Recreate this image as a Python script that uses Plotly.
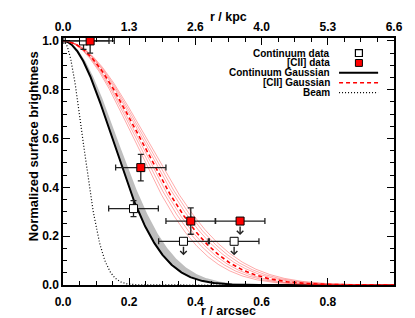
import numpy as np
import plotly.graph_objects as go

# ---------------- data ----------------
# Continuum data (open squares)
cont_r = [0.062, 0.213, 0.364, 0.517]
cont_y = [1.000, 0.313, 0.179, 0.179]
cont_xerr_plus = [0.077, 0.075, 0.075, 0.075]
cont_xerr_minus = [0.062, 0.075, 0.075, 0.075]
cont_yerr = [0.035, 0.033, 0.0, 0.0]
cont_is_limit = [False, False, True, True]

# [CII] data (filled red squares)
cii_r = [0.082, 0.235, 0.386, 0.535]
cii_y = [1.000, 0.481, 0.262, 0.262]
cii_xerr_plus = [0.073, 0.076, 0.075, 0.075]
cii_xerr_minus = [0.075, 0.076, 0.075, 0.075]
cii_yerr = [0.050, 0.054, 0.054, 0.0]
cii_is_limit = [False, False, False, True]

limit_arrow_len = 0.057

# Gaussian model widths (arcsec)
cont_sigma = 0.147
cont_band_sigmas = [0.1455, 0.162]
cii_sigma = 0.230
cii_thin_sigmas = [0.211, 0.218, 0.224, 0.237, 0.243, 0.249]
beam_sigma = 0.059

# Axis ticks
x_tickvals = [0.0, 0.2, 0.4, 0.6, 0.8]
x_ticktext = ["0.0", "0.2", "0.4", "0.6", "0.8"]
top_tickvals = [0.0, 0.2, 0.4, 0.6, 0.8, 1.0]
top_ticktext = ["0.0", "1.3", "2.6", "4.0", "5.3", "6.6"]
y_tickvals = [0.0, 0.2, 0.4, 0.6, 0.8, 1.0]
y_ticktext = ["0.0", "0.2", "0.4", "0.6", "0.8", "1.0"]

legend_labels = ["Continuum data", "[CII] data", "Continuum Gaussian",
                 "[CII] Gaussian", "Beam"]

# ---------------- figure ----------------
FONT = "Liberation Sans, Arial, sans-serif"
r = np.linspace(0, 1.0, 500)


def gauss(x, s):
    return np.exp(-x ** 2 / (2 * s ** 2))


fig = go.Figure()

# grey uncertainty band of continuum Gaussian
fig.add_trace(go.Scatter(x=r, y=gauss(r, cont_band_sigmas[1]), mode="lines",
                         line=dict(width=0, color="#bebebe"), hoverinfo="skip",
                         showlegend=False))
fig.add_trace(go.Scatter(x=r, y=gauss(r, cont_band_sigmas[0]), mode="lines",
                         line=dict(width=0, color="#bebebe"), fill="tonexty",
                         fillcolor="#bebebe", hoverinfo="skip", showlegend=False))
# continuum Gaussian
fig.add_trace(go.Scatter(x=r, y=gauss(r, cont_sigma), mode="lines",
                         line=dict(width=2, color="black"), hoverinfo="skip",
                         showlegend=False))
# beam
fig.add_trace(go.Scatter(x=r, y=gauss(r, beam_sigma), mode="lines",
                         line=dict(width=1.2, color="black", dash="1px,2px"),
                         hoverinfo="skip", showlegend=False))
# [CII] uncertainty curves
for s in cii_thin_sigmas:
    fig.add_trace(go.Scatter(x=r, y=gauss(r, s), mode="lines",
                             line=dict(width=0.8, color="rgba(255,60,60,0.55)"),
                             hoverinfo="skip", showlegend=False))
# [CII] Gaussian
fig.add_trace(go.Scatter(x=r, y=gauss(r, cii_sigma), mode="lines",
                         line=dict(width=1.6, color="#ff0000", dash="4px,3px"),
                         hoverinfo="skip", showlegend=False))


def add_points(rr, yy, xp, xm, ye, lim, fill):
    det = [i for i in range(len(rr)) if not lim[i]]
    up = [i for i in range(len(rr)) if lim[i]]
    ebx = dict(type="data", symmetric=False, color="#222222", thickness=1.3, width=3)
    # detections
    fig.add_trace(go.Scatter(
        x=[rr[i] for i in det], y=[yy[i] for i in det], mode="markers",
        marker=dict(symbol="square", size=8, color=fill,
                    line=dict(color="black", width=1)),
        error_x=dict(ebx, array=[xp[i] for i in det], arrayminus=[xm[i] for i in det]),
        error_y=dict(type="data", symmetric=False,
                     array=[min(ye[i], 1.012 - yy[i]) for i in det],
                     arrayminus=[ye[i] for i in det],
                     color="#222222", thickness=1.3, width=3),
        cliponaxis=False, hoverinfo="skip", showlegend=False))
    # upper limits
    fig.add_trace(go.Scatter(
        x=[rr[i] for i in up], y=[yy[i] for i in up], mode="markers",
        marker=dict(symbol="square", size=8, color=fill,
                    line=dict(color="black", width=1)),
        error_x=dict(ebx, array=[xp[i] for i in up], arrayminus=[xm[i] for i in up]),
        cliponaxis=False, hoverinfo="skip", showlegend=False))
    for i in up:
        fig.add_annotation(x=rr[i], y=yy[i] - limit_arrow_len, ax=rr[i], ay=yy[i],
                           xref="x", yref="y", axref="x", ayref="y", text="",
                           showarrow=True, arrowhead=4, arrowsize=0.9,
                           arrowwidth=1.4, arrowcolor="#222222", startstandoff=4)


add_points(cont_r, cont_y, cont_xerr_plus, cont_xerr_minus, cont_yerr,
           cont_is_limit, "white")
add_points(cii_r, cii_y, cii_xerr_plus, cii_xerr_minus, cii_yerr,
           cii_is_limit, "#ff0000")

# dummy trace to activate the top axis
fig.add_trace(go.Scatter(x=[0.5], y=[0.5], xaxis="x2", mode="markers",
                         marker=dict(opacity=0), hoverinfo="skip", showlegend=False))

tickfont = dict(family=FONT, size=12, color="black", weight="bold")
axis_common = dict(showline=True, linecolor="black", linewidth=1.5, ticks="inside",
                   ticklen=7, tickwidth=1.2, tickcolor="black", showgrid=False,
                   zeroline=False, tickfont=tickfont,
                   minor=dict(ticks="inside", ticklen=4, tickwidth=1, dtick=0.05,
                              tick0=0, tickcolor="black", showgrid=False))

# the page body adds an 8px offset; margins compensate for it
fig.update_layout(
    width=415, height=318,
    margin=dict(l=55, r=29, t=26, b=41),
    paper_bgcolor="white", plot_bgcolor="white",
    xaxis=dict(axis_common, range=[0, 1.0], tickmode="array", tickvals=x_tickvals,
               ticktext=x_ticktext, mirror=False, ticklabelstandoff=5),
    xaxis2=dict(axis_common, range=[0, 1.0], tickmode="array", tickvals=top_tickvals,
                ticktext=top_ticktext, overlaying="x", side="top", anchor="y"),
    yaxis=dict(axis_common, range=[0, 1.012], tickmode="array", tickvals=y_tickvals,
               ticktext=y_ticktext, mirror="ticks"),
)

titlefont = dict(family=FONT, size=12.5, color="black", weight="bold")
fig.add_annotation(text="r / arcsec", xref="paper", yref="paper", x=0.5, y=-0.106,
                   showarrow=False, font=titlefont, xanchor="center", yanchor="middle")
fig.add_annotation(text="r / kpc", xref="paper", yref="paper", x=0.5, y=1.085,
                   showarrow=False, font=titlefont, xanchor="center", yanchor="middle")
fig.add_annotation(text="Normalized surface brightness", xref="paper", yref="paper",
                   x=-0.0906, y=0.562, textangle=-90, showarrow=False,
                   font=dict(titlefont, size=13), xanchor="center", yanchor="middle")

# legend (text right-aligned, symbol on the right)
legfont = dict(family=FONT, size=10, color="black", weight="bold")
row_y = [0.939, 0.899, 0.859, 0.819, 0.779]
for lab, yy in zip(legend_labels, row_y):
    fig.add_annotation(text=lab, xref="paper", yref="paper", x=0.812, y=yy,
                       xanchor="right", yanchor="middle", showarrow=False, font=legfont)
sq_x = 0.894
dx = 3.5 / 331
dy = 3.5 / 251
fig.add_shape(type="rect", xref="paper", yref="paper", x0=sq_x - dx, x1=sq_x + dx,
              y0=row_y[0] - dy, y1=row_y[0] + dy, fillcolor="white",
              line=dict(color="black", width=1.2))
fig.add_shape(type="rect", xref="paper", yref="paper", x0=sq_x - dx, x1=sq_x + dx,
              y0=row_y[1] - dy, y1=row_y[1] + dy, fillcolor="#ff0000",
              line=dict(color="black", width=1))
lx0, lx1 = 0.834, 0.952
fig.add_shape(type="line", xref="paper", yref="paper", x0=lx0, x1=lx1, y0=row_y[2],
              y1=row_y[2], line=dict(color="black", width=2))
fig.add_shape(type="line", xref="paper", yref="paper", x0=lx0, x1=lx1, y0=row_y[3],
              y1=row_y[3], line=dict(color="#ff0000", width=1.6, dash="4px,3px"))
fig.add_shape(type="line", xref="paper", yref="paper", x0=lx0, x1=lx1, y0=row_y[4],
              y1=row_y[4], line=dict(color="black", width=1.2, dash="1px,2px"))

fig.write_html("out.html")
